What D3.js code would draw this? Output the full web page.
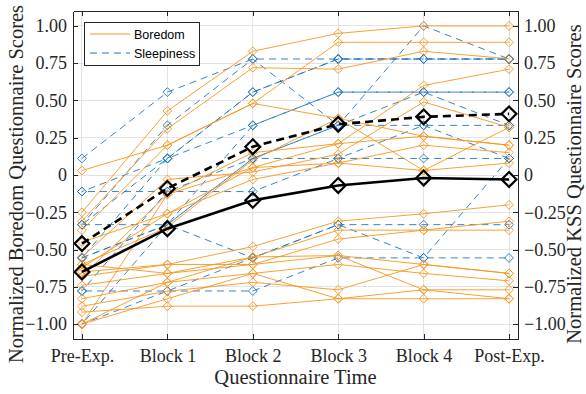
<!DOCTYPE html>
<html>
<head>
<meta charset="utf-8">
<script src="https://cdn.jsdelivr.net/npm/d3@7"></script>
<style>
  html, body { margin: 0; padding: 0; background: #fff; }
  .chart { width: 586px; height: 394px; }
</style>
</head>
<body>
<div class="chart"></div>
<script>
// Questionnaire times (x categories)
var times = ["Pre-Exp.", "Block 1", "Block 2", "Block 3", "Block 4", "Post-Exp."];

// Tick values shared by both y axes
var yTicks = [-1.00, -0.75, -0.50, -0.25, 0, 0.25, 0.50, 0.75, 1.00];

// Normalized boredom scores, one row per participant
var boredom = [
  [0.03, 0.20, 0.48, 0.38, 0.26, 0.20],
  [-0.25, 0.43, 0.83, 0.95, 1.00, 1.00],
  [-0.31, 0.31, 0.72, 0.71, 0.83, 0.78],
  [-0.37, 0.20, 0.48, 0.89, 0.89, 0.89],
  [-1.00, -0.13, 0.05, 0.21, 0.60, 0.71],
  [-0.55, -0.03, 0.02, 0.14, 0.49, 0.32],
  [-0.62, -0.26, -0.03, 0.08, 0.20, 0.15],
  [-0.60, -0.35, 0.10, 0.38, 0.03, 0.08],
  [-0.68, -0.13, 0.15, 0.21, 0.26, 0.20],
  [-0.45, -0.26, 0.05, 0.08, 0.03, 0.32],
  [-0.65, -0.60, -0.48, -0.31, -0.26, -0.20],
  [-0.60, -0.66, -0.55, -0.37, -0.37, -0.31],
  [-0.68, -0.60, -0.60, -0.43, -0.37, -0.37],
  [-0.74, -0.66, -0.60, -0.54, -0.60, -0.66],
  [-0.83, -0.72, -0.66, -0.60, -0.66, -0.71],
  [-0.88, -0.78, -0.72, -0.77, -0.60, -0.66],
  [-1.00, -0.83, -0.66, -0.83, -0.77, -0.77],
  [-0.92, -0.88, -0.88, -0.83, -0.83, -0.83],
  [-1.00, -0.72, -0.55, -0.54, -0.77, -0.83]
];

// Normalized KSS sleepiness scores, one row per participant
var sleepiness = [
  [0.111, 0.556, 0.778, 0.778, 0.778, 0.778],
  [-0.111, 0.111, 0.556, 0.778, 0.778, 0.778],
  [-0.333, 0.111, 0.556, 0.778, 0.778, 0.778],
  [-0.333, 0.333, 0.778, 0.333, 1.000, 0.778],
  [-0.556, 0.111, 0.333, 0.556, 0.556, 0.556],
  [-0.556, -0.333, 0.333, 0.556, 0.556, 0.556],
  [-0.111, -0.111, 0.111, 0.111, 0.333, 0.111],
  [-0.333, -0.333, 0.111, 0.333, 0.333, 0.333],
  [-0.778, -0.111, -0.111, 0.111, 0.111, 0.111],
  [-0.778, -0.778, -0.778, -0.556, -0.556, -0.556],
  [-1.000, -0.778, -0.556, -0.333, -0.333, -0.333],
  [-1.000, -0.333, 0.111, 0.333, 0.556, 0.333],
  [-0.556, -0.333, -0.556, -0.333, -0.556, 0.111]
];

// Group means (black lines)
var boredomMean = [-0.65, -0.36, -0.17, -0.07, -0.02, -0.03];
var sleepinessMean = [-0.46, -0.09, 0.19, 0.34, 0.39, 0.41];

var orange = "#f7961e";
var blue = "#1f77c0";

var width = 586, height = 394;
var plot = { left: 73, right: 518, top: 11, bottom: 339 };
var serif = "'Liberation Serif', 'Times New Roman', serif";

var svg = d3.select(".chart").append("svg")
  .attr("width", width)
  .attr("height", height)
  .style("display", "block");

var xScale = d3.scaleLinear()
  .domain([-0.105, times.length - 1 + 0.105])
  .range([plot.left, plot.right]);

// Both axes use the same normalized range
var yScale = d3.scaleLinear()
  .domain([-1.1, 1.1])
  .range([plot.bottom, plot.top]);

var idx = d3.range(times.length);

// Grid lines
var grid = svg.append("g").attr("class", "grid");
grid.selectAll(".gx").data(idx).enter().append("line")
  .attr("x1", d => xScale(d)).attr("x2", d => xScale(d))
  .attr("y1", plot.top).attr("y2", plot.bottom)
  .attr("stroke", "#e3e3e3").attr("stroke-width", 1)
  .attr("shape-rendering", "crispEdges");
grid.selectAll(".gy").data(yTicks).enter().append("line")
  .attr("x1", plot.left).attr("x2", plot.right)
  .attr("y1", d => yScale(d)).attr("y2", d => yScale(d))
  .attr("stroke", "#e3e3e3").attr("stroke-width", 1)
  .attr("shape-rendering", "crispEdges");

var line = d3.line()
  .x((d, i) => xScale(i))
  .y(d => yScale(d));

var diamond = d3.symbol().type(d3.symbolDiamond2);

function drawSeries(g, rows, color, dashed) {
  rows.forEach(function(row, k) {
    var p = g.append("path")
      .attr("d", line(row))
      .attr("fill", "none")
      .attr("stroke", color)
      .attr("stroke-width", 1)
      .attr("stroke-opacity", 0.9);
    if (dashed) {
      // shift the dash phase per participant so that overlapping runs fill in
      p.attr("stroke-dasharray", "7,5")
        .attr("stroke-dashoffset", (k * 5) % 12);
    }
    g.selectAll(null).data(row).enter().append("path")
      .attr("transform", (d, i) => "translate(" + xScale(i) + "," + yScale(d) + ")")
      .attr("d", diamond.size(50))
      .attr("fill", "none")
      .attr("stroke", color)
      .attr("stroke-width", 1)
      .attr("stroke-opacity", 0.9);
  });
}

drawSeries(svg.append("g").attr("class", "sleepiness"), sleepiness, blue, true);
drawSeries(svg.append("g").attr("class", "boredom"), boredom, orange, false);

// Mean lines
function drawMean(data, dashed) {
  var g = svg.append("g").attr("class", "mean");
  var p = g.append("path")
    .attr("d", line(data))
    .attr("fill", "none")
    .attr("stroke", "#000")
    .attr("stroke-width", 2.6);
  if (dashed) p.attr("stroke-dasharray", "8,5");
  g.selectAll(null).data(data).enter().append("path")
    .attr("transform", (d, i) => "translate(" + xScale(i) + "," + yScale(d) + ")")
    .attr("d", diamond.size(140))
    .attr("fill", "none")
    .attr("stroke", "#000")
    .attr("stroke-width", 2.2);
}
drawMean(boredomMean, false);
drawMean(sleepinessMean, true);

// Axes
var fmt = d => d === 0 ? "0" : d3.format(".2f")(d);
var xAxis = d3.axisBottom(xScale).tickValues(idx).tickFormat(i => times[i]).tickSizeInner(-5).tickSizeOuter(0).tickPadding(10);
var xAxisTop = d3.axisTop(xScale).tickValues(idx).tickFormat("").tickSizeInner(-5).tickSizeOuter(0);
var yAxisL = d3.axisLeft(yScale).tickValues(yTicks).tickFormat(fmt).tickSizeInner(-5).tickSizeOuter(0).tickPadding(6);
var yAxisR = d3.axisRight(yScale).tickValues(yTicks).tickFormat(fmt).tickSizeInner(-5).tickSizeOuter(0).tickPadding(6);

function styleAxis(g) {
  g.select(".domain").attr("stroke", "#262626").attr("stroke-width", 1).attr("shape-rendering", "crispEdges");
  g.selectAll(".tick line").attr("stroke", "#262626").attr("shape-rendering", "crispEdges");
  g.selectAll(".tick text")
    .attr("fill", "#262626")
    .style("font-family", serif)
    .style("font-size", "18px");
}

svg.append("g").attr("transform", "translate(0," + plot.bottom + ")").call(xAxis).call(styleAxis);
svg.append("g").attr("transform", "translate(0," + plot.top + ")").call(xAxisTop).call(styleAxis);
svg.append("g").attr("transform", "translate(" + plot.left + ",0)").call(yAxisL).call(styleAxis);
svg.append("g").attr("transform", "translate(" + plot.right + ",0)").call(yAxisR).call(styleAxis);

// Axis labels
var labels = svg.append("g")
  .style("font-family", serif)
  .style("font-size", "20.5px")
  .attr("fill", "#262626")
  .attr("text-anchor", "middle");
labels.append("text")
  .attr("x", (plot.left + plot.right) / 2)
  .attr("y", 384)
  .text("Questionnaire Time");
labels.append("text")
  .attr("transform", "translate(23,184) rotate(-90)")
  .text("Normalized Boredom Questionnaire Scores");
labels.append("text")
  .attr("transform", "translate(581,184) rotate(-90)")
  .text("Normalized KSS Questionnaire Scores");

// Legend
var legend = svg.append("g").attr("transform", "translate(84,22)");
legend.append("rect")
  .attr("width", 115).attr("height", 43)
  .attr("fill", "#fff").attr("stroke", "#262626").attr("stroke-width", 1)
  .attr("shape-rendering", "crispEdges");
var items = [
  { name: "Boredom", color: orange, dash: null },
  { name: "Sleepiness", color: blue, dash: "7,5" }
];
items.forEach(function(it, i) {
  var y = 12 + i * 19;
  legend.append("line")
    .attr("x1", 6).attr("x2", 46).attr("y1", y).attr("y2", y)
    .attr("stroke", it.color).attr("stroke-width", 1.2)
    .attr("stroke-dasharray", it.dash);
  legend.append("text")
    .attr("x", 50).attr("y", y + 4.5)
    .style("font-family", "'Liberation Sans', Arial, sans-serif")
    .style("font-size", "12.5px")
    .attr("fill", "#000")
    .text(it.name);
});
</script>
</body>
</html>
